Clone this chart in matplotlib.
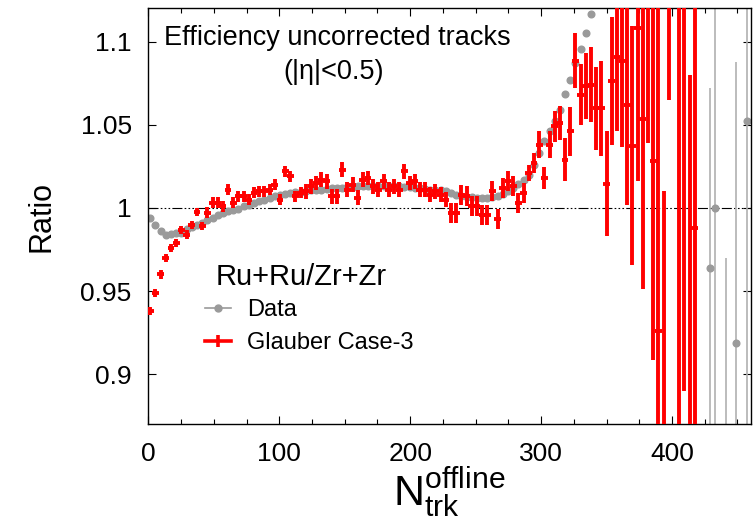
import numpy as np
import matplotlib
matplotlib.use("Agg")
import matplotlib.pyplot as plt
from matplotlib.lines import Line2D

plt.rcParams["font.family"] = ["Liberation Sans", "DejaVu Sans"]
plt.rcParams["mathtext.fontset"] = "custom"
plt.rcParams["mathtext.rm"] = "Liberation Sans"
plt.rcParams["mathtext.default"] = "regular"

# bins in N_trk^offline
bin_start = 1.5
bin_width = 3.96
n_bins = 116

# Data (grey), nan = outside the plotted range
data_ratio = [
    0.994, 0.990, 0.986, 0.984, 0.9846, 0.985, 0.985, 0.9873, 0.9885, 0.990,
    0.991, 0.993, 0.994, 0.9955, 0.997, 0.998, 0.999, 0.9996, 1.001, 1.002,
    1.003, 1.004, 1.005, 1.006, 1.007, 1.0077, 1.0084, 1.009, 1.0094, 1.0098,
    1.010, 1.0105, 1.011, 1.011, 1.0115, 1.012, 1.012, 1.012, 1.0125, 1.0125,
    1.013, 1.013, 1.013, 1.013, 1.013, 1.013, 1.013, 1.013, 1.013, 1.0127,
    1.0125, 1.012, 1.012, 1.0115, 1.011, 1.011, 1.0105, 1.010, 1.009, 1.008,
    1.0073, 1.0068, 1.0064, 1.006, 1.006, 1.006, 1.0065, 1.007, 1.0085, 1.010,
    1.012, 1.0145, 1.017, 1.020, 1.026, 1.033, 1.040, 1.046, 1.052, 1.059,
    1.0686, 1.077, 1.087, 1.0955, 1.1054, 1.1164,
] + [np.nan] * 22 + [0.964, 1.000, np.nan, 0.84, np.nan, 0.9186, np.nan, 1.052]

data_err = [0.001] * 86 + [np.nan] * 22 + [0.108, 0.25, np.nan, 0.13, np.nan, 0.169, np.nan, 0.2]

# Glauber Case-3 (red)
glauber_ratio = [
    0.938, 0.949, 0.960, 0.970, 0.976, 0.979, 0.9866, 0.984, 0.9896, 0.9974,
    0.989, 0.997, 1.003, 1.003, 1.001, 1.011, 1.003, 1.007, 1.007, 1.005,
    1.009, 1.010, 1.010, 1.011, 1.014, 1.005, 1.022, 1.019, 1.007, 1.009,
    1.010, 1.013, 1.015, 1.017, 1.016, 1.007, 1.007, 1.023, 1.011, 1.014,
    1.006, 1.017, 1.018, 1.013, 1.011, 1.016, 1.011, 1.013, 1.011, 1.022,
    1.015, 1.016, 1.011, 1.011, 1.008, 1.010, 1.008, 1.005, 0.997, 0.997,
    1.008, 1.007, 1.001, 1.001, 0.996, 0.996, 1.010, 0.9934, 1.012, 1.016,
    1.013, 1.003, 1.009, 1.021, 1.027, 1.038, 1.018, 1.038, 1.049, 1.051,
    1.029, 1.046, 1.0886, 1.068, 1.0734, 1.074, 1.0598, 1.0598, 1.0146, 1.0764,
    1.0906, 1.0886, 1.062, 1.0374, 1.108, 1.0534, 1.15, 1.0284, 0.926, 0.85,
    1.19, np.nan, 0.85, 1.13, 0.84, 0.988,
] + [np.nan] * 10

glauber_err = (
    [0.0025] * 11 + [0.0033] * 19 + [0.0045] * 28 + [0.006] * 15
    + [0.005, 0.006, 0.008, 0.0065, 0.008, 0.0095, 0.010,
       0.013, 0.0146, 0.0165, 0.0183, 0.0198, 0.0225, 0.025, 0.0283, 0.0314, 0.0385,
       0.0446, 0.052, 0.060, 0.072, 0.092, 0.102, 0.111, 0.12, 0.2, 0.16,
       0.125, np.nan, 0.3, 0.24, 0.24, 0.2]
    + [np.nan] * 10
)

n_trk = bin_start + bin_width * np.arange(n_bins)

fig = plt.figure(figsize=(7.53, 5.23), dpi=100)
ax = fig.add_axes([0.197, 0.189, 0.7998, 0.795])

grey = "#9a9a9a"
ax.axhline(1.0, color="black", lw=0.8, ls=(0, (9, 2, 1.5, 2, 1.5, 2, 1.5, 2)), zorder=1)

ax.errorbar(n_trk, data_ratio, yerr=data_err, fmt="o", color=grey, ms=4.8,
            ecolor="#b0b0b0", elinewidth=1.2, capsize=0, zorder=2)
ax.errorbar(n_trk, glauber_ratio, xerr=2.6, yerr=glauber_err, fmt="none",
            ecolor="red", elinewidth=2.8, capsize=0, zorder=3)

ax.set_xlim(0, 460)
ax.set_ylim(0.87, 1.12)
ax.set_xticks([0, 100, 200, 300, 400])
ax.set_xticks(np.arange(0, 461, 25), minor=True)
ax.set_yticks([0.9, 0.95, 1.0, 1.05, 1.1])
ax.set_yticklabels(["0.9", "0.95", "1", "1.05", "1.1"])
ax.tick_params(which="both", direction="in", top=True, right=True, width=0.8)
ax.tick_params(which="major", length=6)
ax.tick_params(which="minor", length=3.5)
ax.tick_params(axis="y", labelsize=19, pad=12)
ax.tick_params(axis="x", labelsize=19, pad=13)
for s in ax.spines.values():
    s.set_linewidth(1.0)

ax.set_ylabel("Ratio", fontsize=22, labelpad=17)
ax.set_xlabel(r"$N_{trk}^{offline}$", fontsize=31, labelpad=-1)

ax.text(0.314, 0.929, "Efficiency uncorrected tracks", transform=ax.transAxes,
        ha="center", va="center", fontsize=19.5)
ax.text(0.308, 0.847, "(|η|<0.5)", transform=ax.transAxes,
        ha="center", va="center", fontsize=19.5)

# legend: title drawn as text, entries as legend
ax.text(0.111, 0.354, "Ru+Ru/Zr+Zr", transform=ax.transAxes,
        ha="left", va="center", fontsize=21)
h_data = Line2D([], [], color=grey, lw=1.2, marker="o", ms=5)
h_gl = Line2D([], [], color="red", lw=2.6, marker="|", ms=8, mew=2.6)
leg = ax.legend([h_data, h_gl], ["Data", "Glauber Case-3"],
                loc="upper left", bbox_to_anchor=(0.094, 0.30), frameon=False,
                fontsize=17, handlelength=1.1, handletextpad=0.7, labelspacing=0.45,
                borderpad=0, borderaxespad=0)

fig.savefig("out.png", dpi=100)
